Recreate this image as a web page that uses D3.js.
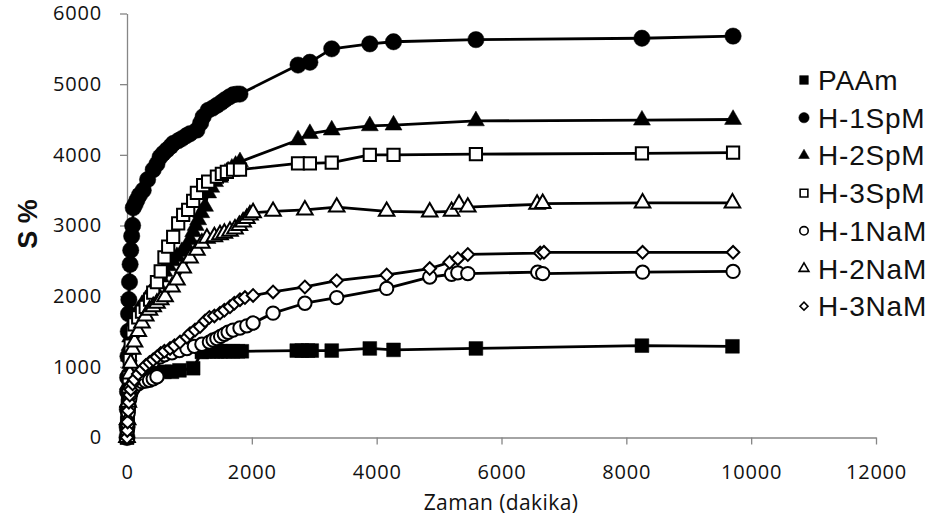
<!DOCTYPE html>
<html>
<head>
<meta charset="utf-8">
<script src="https://cdn.jsdelivr.net/npm/d3@7"></script>
<style>
  body { margin: 0; background: #fff; }
  svg { display: block; }
</style>
</head>
<body>
<svg id="chart" width="937" height="519"></svg>
<script>
// series values: [zaman (dakika), S %]
const seriesNames = ["PAAm", "H-1SpM", "H-2SpM", "H-3SpM", "H-1NaM", "H-2NaM", "H-3NaM"];

const paam = [[0,0],[2,100],[5,200],[10,350],[15,450],[20,550],[30,650],[45,720],[60,780],[90,820],[120,840],
  [180,860],[260,890],[340,900],[420,910],[480,910],[600,930],[720,930],[840,950],[1060,980],[1200,1210],
  [1260,1220],[1320,1220],[1380,1220],[1440,1220],[1500,1220],[1560,1220],[1620,1220],[1700,1220],[1780,1220],
  [1840,1220],[2720,1230],[2800,1230],[2900,1230],[2960,1230],[3280,1230],[3890,1260],[4270,1240],[5590,1260],
  [8250,1300],[9700,1290]];

const h1SpM = [[0,0],[2,150],[5,400],[8,650],[10,850],[15,1150],[20,1500],[25,1750],[30,1950],[40,2200],
  [50,2450],[60,2650],[75,2850],[90,3000],[100,3250],[130,3300],[160,3360],[200,3430],[260,3500],[330,3650],
  [420,3790],[480,3870],[530,3970],[580,4020],[640,4070],[700,4120],[740,4160],[820,4200],[880,4230],[950,4270],
  [1010,4300],[1120,4350],[1180,4450],[1220,4540],[1300,4630],[1370,4660],[1440,4700],[1510,4740],[1570,4780],
  [1640,4820],[1700,4850],[1760,4860],[1810,4860],[2740,5270],[2930,5310],[3280,5500],[3890,5570],[4270,5600],
  [5590,5630],[8250,5650],[9710,5680]];

const h2SpM = [[0,0],[5,250],[10,500],[15,750],[20,950],[30,1150],[40,1300],[50,1420],[60,1500],[75,1560],
  [90,1610],[120,1680],[150,1750],[180,1800],[240,1880],[300,1950],[360,2030],[420,2110],[480,2190],[540,2270],
  [600,2350],[660,2430],[730,2500],[800,2560],[880,2630],[960,2700],[1010,2800],[1060,2910],[1100,3000],
  [1140,3080],[1190,3180],[1250,3270],[1300,3460],[1350,3540],[1410,3620],[1490,3680],[1570,3740],[1620,3770],
  [1680,3810],[1740,3850],[1810,3900],[2740,4210],[2930,4300],[3280,4350],[3890,4410],[4270,4420],[5590,4480],
  [8250,4490],[9710,4500]];

const h3SpM = [[0,0],[10,300],[20,600],[30,850],[45,1100],[60,1300],[90,1500],[120,1600],[180,1700],[240,1780],
  [300,1850],[370,1950],[420,2050],[480,2200],[540,2350],[600,2550],[660,2700],[740,2840],[820,3030],[900,3150],
  [980,3220],[1060,3350],[1120,3460],[1220,3570],[1300,3620],[1440,3690],[1520,3730],[1600,3760],[1700,3790],
  [1810,3790],[2740,3880],[2930,3880],[3280,3890],[3890,4000],[4270,4000],[5590,4010],[8250,4020],[9710,4030]];

const h1NaM = [[0,0],[5,100],[10,200],[20,350],[30,450],[45,550],[60,620],[90,680],[120,720],[180,760],
  [240,790],[300,800],[360,810],[420,830],[480,860],[530,1140],[600,1170],[720,1200],[840,1230],[960,1260],
  [1080,1290],[1200,1320],[1320,1350],[1380,1380],[1440,1400],[1500,1430],[1560,1460],[1620,1490],[1700,1520],
  [1810,1550],[1920,1580],[2020,1620],[2340,1760],[2850,1900],[3360,1980],[4160,2110],[4850,2270],[5200,2310],
  [5300,2330],[5460,2320],[6580,2340],[6660,2320],[8260,2340],[9710,2350]];

const h2NaM = [[0,0],[10,250],[20,500],[30,700],[45,900],[60,1050],[90,1250],[120,1350],[180,1500],[240,1620],
  [300,1720],[360,1800],[420,1850],[480,1900],[540,1950],[610,1990],[720,2130],[800,2230],[900,2400],[1010,2540],
  [1120,2650],[1200,2750],[1280,2820],[1400,2840],[1490,2870],[1560,2890],[1650,2920],[1730,2950],[1800,3000],
  [1860,3050],[1920,3100],[1970,3150],[2020,3180],[2340,3200],[2850,3220],[3360,3260],[4160,3200],[4850,3190],
  [5200,3200],[5320,3300],[5460,3260],[6570,3300],[6660,3310],[8260,3320],[9700,3320]];

const h3NaM = [[0,0],[5,100],[10,220],[20,380],[30,500],[45,600],[60,680],[90,760],[120,820],[180,900],
  [240,960],[300,1020],[360,1060],[420,1100],[480,1140],[540,1190],[600,1220],[690,1260],[760,1300],[850,1350],
  [960,1420],[1010,1470],[1090,1520],[1170,1570],[1250,1650],[1320,1700],[1400,1720],[1490,1760],[1560,1800],
  [1650,1850],[1720,1900],[1810,1950],[1890,1980],[2020,2010],[2340,2060],[2850,2130],[3360,2220],[4160,2300],
  [4850,2390],[5170,2480],[5300,2530],[5460,2590],[6620,2610],[6680,2620],[8260,2620],[9710,2620]];

const xTicks = [0, 2000, 4000, 6000, 8000, 10000, 12000];
const yTicks = [0, 1000, 2000, 3000, 4000, 5000, 6000];

const allSeries = [paam, h1SpM, h2SpM, h3SpM, h1NaM, h2NaM, h3NaM];

// marker look per series (drawing only)
const markers = [
  { type: d3.symbolSquare,   size: 190, filled: true,  rot: 0 },
  { type: d3.symbolCircle,   size: 210, filled: true,  rot: 0 },
  { type: d3.symbolTriangle, size: 125, filled: true,  rot: 0 },
  { type: d3.symbolSquare,   size: 150, filled: false, rot: 0 },
  { type: d3.symbolCircle,   size: 140, filled: false, rot: 0 },
  { type: d3.symbolTriangle, size: 105, filled: false, rot: 0 },
  { type: d3.symbolSquare,   size: 80,  filled: false, rot: 45 }
];

const svg = d3.select("#chart");

const x = d3.scaleLinear().domain([0, 12000]).range([127, 876]);
const y = d3.scaleLinear().domain([0, 6000]).range([437.5, 13.5]);

// axes
const xAxis = d3.axisBottom(x).tickValues(xTicks).tickFormat(d3.format("d"))
  .tickSize(7).tickSizeOuter(0).tickPadding(20);
const yAxis = d3.axisLeft(y).tickValues(yTicks).tickFormat(d3.format("d"))
  .tickSize(7).tickSizeOuter(0).tickPadding(18);

function styleAxis(g) {
  g.select(".domain").attr("stroke", "#868686").attr("stroke-width", 1.3);
  g.selectAll(".tick line").attr("stroke", "#868686").attr("stroke-width", 1.3);
  g.selectAll(".tick text")
    .attr("fill", "#111")
    .style("font-family", "'Open Sans', sans-serif")
    .style("font-size", "20px")
    .style("letter-spacing", "0.8px");
}

svg.append("g").attr("transform", "translate(0,437.5)").call(xAxis).call(styleAxis);
svg.append("g").attr("transform", "translate(127,0)").call(yAxis).call(styleAxis);

// axis titles
svg.append("text")
  .attr("x", 501).attr("y", 510)
  .attr("text-anchor", "middle")
  .style("font-family", "'Open Sans', sans-serif")
  .style("font-size", "21px")
  .style("letter-spacing", "0.4px")
  .attr("fill", "#111")
  .text("Zaman (dakika)");

svg.append("text")
  .attr("transform", "translate(37,224) rotate(-90)")
  .attr("text-anchor", "middle")
  .style("font-family", "'Liberation Sans', Arial, sans-serif")
  .style("font-size", "27px")
  .style("font-weight", "bold")
  .attr("fill", "#111")
  .text("S %");

// series lines + markers
const line = d3.line().x(d => x(d[0])).y(d => y(d[1]));
const plot = svg.append("g");

allSeries.forEach(function (data, i) {
  const m = markers[i];
  const g = plot.append("g").attr("class", "series s" + i);

  g.append("path")
    .datum(data)
    .attr("d", line)
    .attr("fill", "none")
    .attr("stroke", "#000")
    .attr("stroke-width", 2.8)
    .attr("stroke-linejoin", "round");

  const sym = d3.symbol().type(m.type).size(m.size);
  g.selectAll("path.mark")
    .data(data)
    .enter()
    .append("path")
    .attr("class", "mark")
    .attr("d", sym)
    .attr("transform", d => "translate(" + x(d[0]) + "," + y(d[1]) + ") rotate(" + m.rot + ")")
    .attr("fill", m.filled ? "#000" : "#fff")
    .attr("stroke", "#000")
    .attr("stroke-width", m.filled ? 0.5 : 2);
});

// legend
const legend = svg.append("g");
seriesNames.forEach(function (name, i) {
  const m = markers[i];
  const ly = 80 + i * 37.7;
  const sym = d3.symbol().type(m.type).size(m.size * 0.4);
  legend.append("path")
    .attr("d", sym)
    .attr("transform", "translate(804," + ly + ") rotate(" + m.rot + ")")
    .attr("fill", m.filled ? "#000" : "#fff")
    .attr("stroke", "#000")
    .attr("stroke-width", m.filled ? 0.5 : 1.6);
  legend.append("text")
    .attr("x", 818).attr("y", ly)
    .attr("dy", "0.36em")
    .style("font-family", "'Liberation Sans', Arial, sans-serif")
    .style("font-size", "28px")
    .style("letter-spacing", "0.8px")
    .attr("fill", "#111")
    .text(name);
});
</script>
</body>
</html>
